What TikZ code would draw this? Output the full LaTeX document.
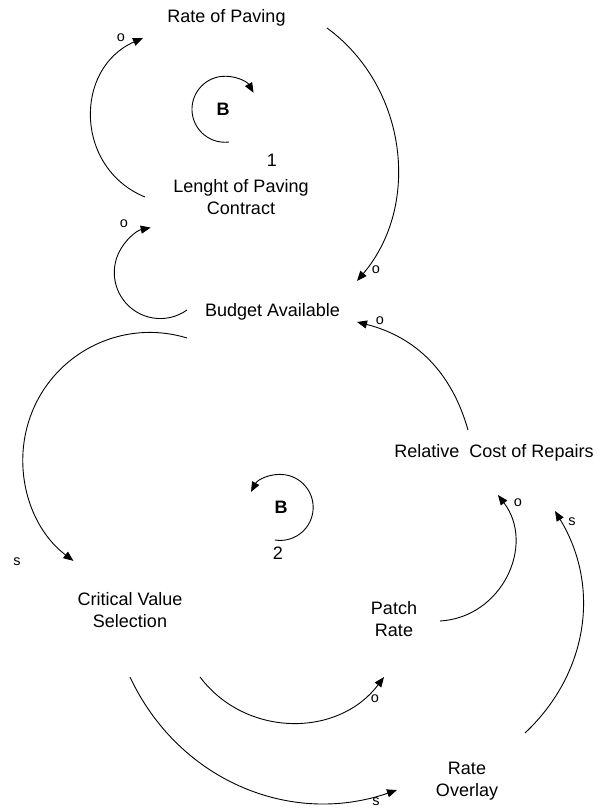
\documentclass[tikz,border=0pt]{standalone}
\usepackage{fontspec}
\setmainfont{Liberation Sans}
\usetikzlibrary{arrows.meta}
\begin{document}
\begin{tikzpicture}[x=1pt,y=1pt,
  every node/.style={inner sep=0pt,outer sep=0pt},
  var/.style={font=\fontsize{18}{22}\selectfont,align=center},
  pol/.style={font=\fontsize{14.5}{16}\selectfont},
  loopb/.style={font=\fontsize{18}{22}\selectfont\bfseries},
  loopn/.style={font=\fontsize{18}{22}\selectfont},
  arr/.style={line width=0.9pt,-{Triangle[length=10pt,width=8pt]}}]
\useasboundingbox (0,0) rectangle (598,-808);
% variables
\node[var,anchor=base] (rop) at (226.5,-23) {Rate of Paving};
\node[var] (len) at (241,-197.5) {Lenght of Paving\\Contract};
\node[var,anchor=base] (ba) at (272.5,-316) {Budget Available};
\node[var,anchor=base] (rcr) at (494,-457) {Relative\ \ Cost of Repairs};
\node[var] (cvs) at (130,-610.5) {Critical Value\\Selection};
\node[var] (pr) at (394,-619.5) {Patch\\Rate};
\node[var] (ro) at (467,-781) {Rate\\Overlay};
% loop markers
\node[loopb] (b1) at (223,-109) {B};
\node[loopn] (n1) at (272,-160) {1};
\node[loopb] (b2) at (281,-507) {B};
\node[loopn] (n2) at (278,-553) {2};
% polarity labels
\node[pol] (p1) at (121,-38) {o};
\node[pol] (p2) at (124,-224) {o};
\node[pol] (p3) at (376,-270) {o};
\node[pol] (p4) at (380,-321) {o};
\node[pol] (p5) at (518,-503) {o};
\node[pol] (p6) at (375,-699) {o};
\node[pol] (p7) at (17,-562) {s};
\node[pol] (p8) at (572,-522) {s};
\node[pol] (p9) at (376,-802) {s};
% connector ends
\coordinate (lenOut) at (145,-197);
\coordinate (ropIn) at (143,-38);
\coordinate (ropOut) at (327,-28);
\coordinate (baIn1) at (357,-281);
\coordinate (rcrOut) at (468,-430);
\coordinate (baIn2) at (357,-322);
\coordinate (baOut1) at (187,-310);
\coordinate (baOut2) at (187,-338);
\coordinate (prOut) at (440,-621);
\coordinate (rcrIn1) at (498,-495);
\coordinate (roOut) at (525,-733);
\coordinate (rcrIn2) at (555,-511);
\coordinate (cvsOut1) at (200,-677);
\coordinate (prIn) at (384,-677);
\coordinate (cvsOut2) at (130,-677);
\coordinate (roIn) at (397,-790);
\coordinate (b1s) at (229,-142);
\coordinate (b2s) at (275,-540);
% connectors
\draw[arr] (lenOut) to[bend left=67,looseness=1.22] (ropIn);
\draw[arr] (ropOut) to[bend left=47] (baIn1);
\draw[arr] (rcrOut) to[bend right=30] (baIn2);
\draw[arr] (baOut1) arc[start angle=-54.5,end angle=-258,radius=46];
\draw[arr] (baOut2) arc[start angle=73,end angle=233,radius=127];
\draw[arr] (prOut) to[bend right=62,looseness=1.15] (rcrIn1);
\draw[arr] (roOut) to[bend right=39] (rcrIn2);
\draw[arr] (cvsOut1) to[bend right=53,looseness=1.06] (prIn);
\draw[arr] (cvsOut2) to[bend right=42] (roIn);
% loop arrows
\draw[arr] (b1s) arc[start angle=-83,end angle=-330,radius=33];
\draw[arr] (b2s) arc[start angle=-99,end angle=152,radius=33];
\end{tikzpicture}
\end{document}
